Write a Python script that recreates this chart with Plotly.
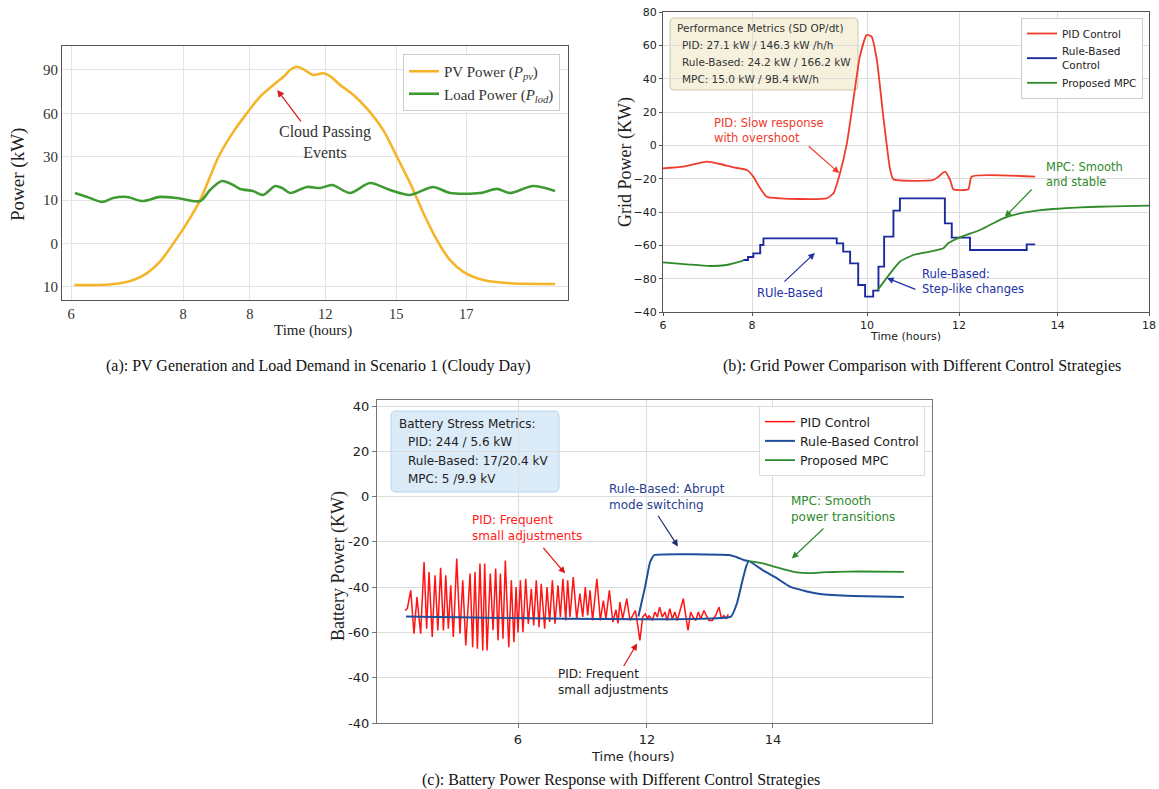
import plotly.graph_objects as go

W, H = 1159, 789
SANS = "DejaVu Sans"
SERIF = "Liberation Serif"

# ---------------- (a) PV generation / load ----------------
a_xtick_pos = [6, 9.2, 11.11, 13.26, 15.29, 17.29]
a_xtick_txt = ["6", "8", "8", "12", "15", "17"]
a_ytick_pos = [-20, 0, 20, 40, 60, 80]
a_ytick_txt = ["10", "0", "10", "30", "60", "90"]

a_pv_t = [6.09, 6.83, 7.40, 7.78, 8.16, 8.54, 8.92, 9.31, 9.69, 9.97, 10.21, 10.64, 11.02, 11.40,
          11.78, 12.07, 12.26, 12.45, 12.64, 12.92, 13.21, 13.40, 13.69, 14.07, 14.45, 14.92,
          15.31, 15.69, 16.07, 16.45, 16.83, 17.21, 17.78, 18.54, 19.83]
a_pv = [-19.1, -19.1, -18.3, -16.8, -13.7, -8.3, 0.0, 9.4, 20.0, 30.8, 39.9, 51.6, 60.0, 67.7,
        73.1, 76.9, 80.0, 81.5, 80.3, 77.7, 78.5, 77.2, 73.1, 68.5, 62.3, 52.3,
        40.0, 27.8, 14.0, 1.7, -7.6, -13.0, -16.8, -18.3, -18.6]

a_load_t = [6.11, 6.46, 6.89, 7.20, 7.60, 8.03, 8.54, 9.03, 9.69, 9.97, 10.31, 10.63, 10.83, 11.20,
            11.49, 11.83, 12.03, 12.26, 12.74, 13.11, 13.46, 13.97, 14.54, 15.11, 15.69, 16.34,
            16.83, 17.69, 18.17, 18.54, 19.20, 19.83]
a_load = [23.3, 21.5, 19.2, 21.0, 21.5, 19.6, 21.5, 21.0, 19.6, 24.7, 28.8, 27.0, 25.2, 24.2,
          22.4, 26.5, 25.6, 23.3, 26.1, 25.6, 27.0, 23.3, 27.9, 24.7, 22.4, 26.1,
          23.3, 23.3, 25.2, 23.3, 26.5, 24.2]

# ---------------- (b) grid power ----------------
b_xtick_pos = [6, 8.2, 11.04, 13.31, 15.75, 18]
b_xtick_txt = ["6", "8", "10", "12", "14", "18"]
b_ytick_pos = [-100, -80, -60, -40, -20, 0, 20, 40, 60, 80]
b_ytick_txt = ["\u221240", "\u221280", "\u221260", "\u221240", "\u221220", "0", "20", "40", "60", "80"]

b_pid_t = [6.0, 6.50, 7.08, 7.41, 7.74, 8.07, 8.23, 8.40, 8.56, 8.89, 9.38, 10.04, 10.21, 10.37,
           10.54, 10.70, 10.86, 11.03, 11.15, 11.28, 11.44, 11.61, 11.69, 12.67, 12.80, 12.96,
           13.09, 13.17, 13.54, 13.62, 15.19]
b_pid = [-13.8, -12.8, -9.8, -11.2, -13.2, -14.8, -18.8, -25.8, -30.8, -31.8, -32.2, -31.8, -28.8, -16.8,
         1.2, 27.2, 53.2, 66.2, 65.2, 51.2, 17.2, -14.8, -20.4, -20.8, -18.8, -15.8,
         -20.8, -26.4, -26.4, -18.8, -18.8]

b_rb_t = [7.98, 8.10, 8.23, 8.40, 8.48, 10.29, 10.45, 10.62, 10.82, 10.99, 11.19, 11.32, 11.46,
          11.69, 11.85, 12.96, 13.13, 13.58, 14.98, 15.19]
b_rb = [-68.8, -67.0, -64.8, -59.8, -55.8, -58.8, -63.8, -70.8, -83.8, -90.8, -87.2, -72.8, -54.8,
        -39.2, -31.8, -46.8, -55.4, -62.8, -59.4, -59.4]

b_mpc_t = [6.0, 6.59, 7.16, 7.57, 7.98, None, 11.30, 11.61, 11.85, 12.18, 12.59, 12.92, 13.04,
           13.33, 13.83, 14.40, 14.82, 15.23, 15.64, 16.30, 17.12, 18.0]
b_mpc = [-70.2, -71.4, -72.4, -71.8, -69.2, None, -86.8, -76.8, -69.8, -65.8, -63.8, -61.8, -58.8,
         -55.2, -50.8, -43.8, -40.8, -39.2, -38.2, -37.2, -36.6, -36.2]

# ---------------- (c) battery power ----------------
c_xtick_pos = [6, 12, 17.86]
c_xtick_txt = ["6", "12", "14"]
c_ytick_pos = [40, 20, 0, -20, -40, -60, -80, -100]
c_ytick_txt = ["40", "20", "0", "-20", "-40", "-60", "-40", "-40"]

c_pid_t = [0.74, 0.85, 1.01, 1.16, 1.30, 1.47, 1.63, 1.75, 1.86, 2.01, 2.14, 2.27, 2.40, 2.53,
           2.64, 2.76, 2.87, 2.99, 3.15, 3.30, 3.43, 3.57, 3.77, 3.89, 4.00, 4.11, 4.23, 4.36,
           4.45, 4.56, 4.71, 4.84, 4.96, 5.07, 5.18, 5.30, 5.41, 5.57, 5.69, 5.81, 5.91, 6.00,
           6.11, 6.23, 6.36, 6.48, 6.62, 6.73, 6.85, 6.98, 7.08, 7.24, 7.35, 7.47, 7.60, 7.72,
           7.86, 7.97, 8.09, 8.22,
           8.31, 8.42, 8.57, 8.73, 8.88, 9.01, 9.13, 9.24, 9.35, 9.47, 9.67, 9.83, 9.97, 10.09,
           10.25, 10.41, 10.56, 10.65, 10.74, 10.87, 11.06, 11.21, 11.34, 11.46, 11.57, 11.67,
           11.80, 11.92, 12.03,
           12.09, 12.25, 12.37, 12.48, 12.59, 12.71, 12.84, 12.94, 13.06, 13.18, 13.30, 13.41,
           13.57, 13.69, 13.80, 13.91, 14.03, 14.14, 14.27, 14.39, 14.50, 14.65, 14.76, 14.88,
           15.04, 15.20, 15.35, 15.47, 15.58, 15.69, 15.78]
c_pid = [-50.3, -49.5, -41.4, -60.6, -44.4, -60.6, -28.9, -58.4, -33.3, -62.0, -34.8, -59.1, -31.4, -59.1,
         -34.8, -58.4, -39.2, -62.0, -27.4, -60.6, -37.0, -65.8, -34.0, -66.5, -33.3, -67.2, -29.6, -68.0,
         -29.6, -68.0, -34.0, -59.0, -31.8, -63.5, -34.0, -62.8, -28.2, -66.5, -37.0, -64.3, -40.0, -60.0,
         -37.0, -59.9, -36.3, -56.2, -40.7, -56.9, -37.0, -57.7, -38.5, -58.4, -40.0, -55.4, -37.0, -56.2,
         -39.2, -53.2, -36.3, -54.7,
         -37.0, -53.2, -35.5, -54.0, -42.9, -53.2, -40.0, -52.5, -41.4, -54.7, -36.3, -54.7, -45.9, -54.0,
         -41.4, -55.4, -50.0, -56.0, -46.6, -54.0, -45.1, -54.7, -52.5, -50.3, -56.9, -63.5,
         -53.2, -51.8, -54.0,
         -52.5, -54.7, -51.0, -53.2, -48.8, -53.2, -51.0, -54.7, -49.5, -54.0, -51.0, -54.7,
         -48.8, -45.1, -52.5, -59.1, -51.0, -53.2, -54.7, -51.0, -54.0, -50.3, -52.5, -54.7,
         -54.7, -52.5, -48.8, -54.0, -52.5, -54.0, -52.0]

c_rb_t = [0.79, 15.91, 16.19, 16.42, 16.61, 16.74, 17.40, 18.05, 18.65, 19.44, 20.05, 21.58, 23.95,
          None, 11.60, 11.91, 12.14, 12.33, 15.81, 16.19, 16.51, 16.74]
c_rb = [-53.0, -53.0, -47.0, -38.0, -31.0, -28.5, -32.6, -36.1, -39.8, -41.9, -43.0, -43.9, -44.4,
        None, -53.0, -40.0, -29.0, -25.8, -25.8, -26.8, -28.0, -28.5]

c_mpc_t = [16.74, 17.40, 17.86, 18.33, 18.98, 19.58, 20.30, 20.84, 21.90, 23.95]
c_mpc = [-28.5, -29.5, -30.8, -32.0, -33.5, -33.8, -33.4, -33.3, -33.1, -33.3]


def X(px):
    return px / W


def Y(py):
    return 1 - py / H


def rounded_box(x0, y0, x1, y1, r):
    """Rounded rectangle path in paper coordinates from pixel corners."""
    pts = [
        f"M {X(x0 + r)},{Y(y0)}", f"L {X(x1 - r)},{Y(y0)}", f"Q {X(x1)},{Y(y0)} {X(x1)},{Y(y0 + r)}",
        f"L {X(x1)},{Y(y1 - r)}", f"Q {X(x1)},{Y(y1)} {X(x1 - r)},{Y(y1)}",
        f"L {X(x0 + r)},{Y(y1)}", f"Q {X(x0)},{Y(y1)} {X(x0)},{Y(y1 - r)}",
        f"L {X(x0)},{Y(y0 + r)}", f"Q {X(x0)},{Y(y0)} {X(x0 + r)},{Y(y0)}", "Z",
    ]
    return " ".join(pts)


fig = go.Figure()

# (a)
fig.add_trace(go.Scatter(x=a_pv_t, y=a_pv, mode="lines", name="PV Power (<i>P<sub>pv</sub></i>)",
                         line=dict(color="#f5b52a", width=2.6, shape="spline", smoothing=0.8),
                         xaxis="x", yaxis="y", legend="legend"))
fig.add_trace(go.Scatter(x=a_load_t, y=a_load, mode="lines", name="Load Power (<i>P<sub>lod</sub></i>)",
                         line=dict(color="#3f9a33", width=2.6, shape="spline", smoothing=0.8),
                         xaxis="x", yaxis="y", legend="legend"))
# (b)
fig.add_trace(go.Scatter(x=b_pid_t, y=b_pid, mode="lines", name="PID Control",
                         line=dict(color="#f03c2c", width=1.8, shape="spline", smoothing=0.5),
                         xaxis="x2", yaxis="y2", legend="legend2"))
fig.add_trace(go.Scatter(x=b_rb_t, y=b_rb, mode="lines", name="Rule-Based<br>Control",
                         line=dict(color="#1c2a9e", width=1.9, shape="hv"),
                         xaxis="x2", yaxis="y2", legend="legend2"))
fig.add_trace(go.Scatter(x=b_mpc_t, y=b_mpc, mode="lines", name="Proposed MPC",
                         line=dict(color="#2f8a2a", width=1.8, shape="spline", smoothing=0.6),
                         xaxis="x2", yaxis="y2", legend="legend2"))
# (c)
fig.add_trace(go.Scatter(x=c_pid_t, y=c_pid, mode="lines", name="PID Control",
                         line=dict(color="#ff1414", width=1.5),
                         xaxis="x3", yaxis="y3", legend="legend3"))
fig.add_trace(go.Scatter(x=c_rb_t, y=c_rb, mode="lines", name="Rule-Based Control",
                         line=dict(color="#1f4e9b", width=2.0, shape="spline", smoothing=0.3),
                         xaxis="x3", yaxis="y3", legend="legend3"))
fig.add_trace(go.Scatter(x=c_mpc_t, y=c_mpc, mode="lines", name="Proposed MPC",
                         line=dict(color="#2d8a2d", width=1.8, shape="spline", smoothing=0.5),
                         xaxis="x3", yaxis="y3", legend="legend3"))

grid = "#e4e4e4"
fig.update_layout(
    template="none",
    width=W, height=H, margin=dict(l=0, r=0, t=0, b=0, pad=0), autosize=False,
    paper_bgcolor="white", plot_bgcolor="white",
    xaxis=dict(domain=[X(62), X(568)], anchor="y", range=[5.74, 20.2], automargin=False,
               tickvals=a_xtick_pos, ticktext=a_xtick_txt, showgrid=True, gridcolor=grid,
               showline=True, mirror=True, linecolor="#555", linewidth=1.2, zeroline=False,
               ticks="", tickfont=dict(family=SERIF, size=14.5, color="#333")),
    yaxis=dict(domain=[Y(300), Y(46)], anchor="x", range=[-26, 91.05], automargin=False,
               tickvals=a_ytick_pos, ticktext=a_ytick_txt, showgrid=True, gridcolor=grid,
               showline=True, mirror=True, linecolor="#555", linewidth=1.2, zeroline=False,
               ticks="", tickfont=dict(family=SERIF, size=15, color="#333")),
    xaxis2=dict(domain=[X(663), X(1149)], anchor="y2", range=[6, 18], automargin=False,
                tickvals=b_xtick_pos, ticktext=b_xtick_txt, showgrid=True, gridcolor="#dddddd",
                showline=True, mirror=True, linecolor="#555", linewidth=1, zeroline=False,
                ticks="outside", ticklen=3, tickcolor="#555",
                tickfont=dict(family=SANS, size=11, color="#222")),
    yaxis2=dict(domain=[Y(312), Y(12)], anchor="x2", range=[-100, 80], automargin=False,
                tickvals=b_ytick_pos, ticktext=b_ytick_txt, showgrid=True, gridcolor="#dddddd",
                showline=True, mirror=True, linecolor="#555", linewidth=1, zeroline=False,
                ticks="outside", ticklen=3, tickcolor="#555",
                tickfont=dict(family=SANS, size=11, color="#222")),
    xaxis3=dict(domain=[X(377), X(932)], anchor="y3", range=[-0.56, 25.26], automargin=False,
                tickvals=c_xtick_pos, ticktext=c_xtick_txt, showgrid=True, gridcolor="#dddddd",
                showline=True, mirror=True, linecolor="#777", linewidth=1.2, zeroline=False,
                ticks="outside", ticklen=4, tickcolor="#777",
                tickfont=dict(family=SANS, size=13, color="#222")),
    yaxis3=dict(domain=[Y(723), Y(400)], anchor="x3", range=[-100, 42.65], automargin=False,
                tickvals=c_ytick_pos, ticktext=c_ytick_txt, showgrid=True, gridcolor="#dddddd",
                showline=True, mirror=True, linecolor="#777", linewidth=1.2, zeroline=False,
                ticks="outside", ticklen=4, tickcolor="#777",
                tickfont=dict(family=SANS, size=13, color="#222")),
    legend=dict(x=X(560), xanchor="right", y=Y(54), yanchor="top", bgcolor="white",
                bordercolor="#cccccc", borderwidth=1, font=dict(family=SERIF, size=15, color="#333"),
                itemwidth=30),
    legend2=dict(x=X(1143), xanchor="right", y=Y(18), yanchor="top", bgcolor="white",
                 bordercolor="#cccccc", borderwidth=1, font=dict(family=SANS, size=10.5, color="#222"),
                 itemwidth=30),
    legend3=dict(x=X(925), xanchor="right", y=Y(406), yanchor="top", bgcolor="white",
                 bordercolor="#dddddd", borderwidth=1, font=dict(family=SANS, size=12.5, color="#222"),
                 itemwidth=30),
)

ann = []


def text(px, py, s, size, color, family=SANS, xanchor="left", yanchor="middle", angle=0):
    ann.append(dict(x=X(px), y=Y(py), xref="paper", yref="paper", text=s, showarrow=False,
                    xanchor=xanchor, yanchor=yanchor, align="left" if xanchor == "left" else "center",
                    font=dict(family=family, size=size, color=color), textangle=angle))


def arrow(ax, hx, hy, tx, ty, color, width=1.2):
    ann.append(dict(x=hx, y=hy, ax=tx, ay=ty, xref=ax[0], yref=ax[1], axref=ax[0], ayref=ax[1],
                    text="", showarrow=True, arrowhead=2, arrowsize=1.1, arrowwidth=width,
                    arrowcolor=color))


# axis titles and captions
text(18, 175, "Power (kW)", 19, "#222", SERIF, "center", "middle", -90)
text(313, 330, "Time (hours)", 15, "#222", SERIF, "center", "middle")
text(318, 366, "(a): PV Generation and Load Demand in Scenario 1 (Cloudy Day)", 16, "#111", SERIF, "center")
text(626, 162, "Grid Power (KW)", 18, "#222", SERIF, "center", "middle", -90)
text(905, 336, "Time (hours)", 11, "#222", SANS, "center", "middle")
text(922, 366, "(b): Grid Power Comparison with Different Control Strategies", 16, "#111", SERIF, "center")
text(338, 566, "Battery Power (KW)", 18, "#222", SERIF, "center", "middle", -90)
text(633, 756, "Time (hours)", 13, "#222", SANS, "center", "middle")
text(621, 780, "(c): Battery Power Response with Different Control Strategies", 16, "#111", SERIF, "center")

# (a) annotation
text(325, 142, "Cloud Passing<br>Events", 16, "#333", SERIF, "center", "middle")
arrow(("x", "y"), 11.89, 70.8, 12.60, 55.6, "#d62020", 1.3)

# (b) annotations
text(712, 130, "PID: Slow response<br>with overshoot", 11.5, "#f03c2c")
arrow(("x2", "y2"), 10.35, -16.6, 9.56, 0.2, "#f03c2c")
text(755, 293, "RUle-Based", 11.5, "#2030a8")
arrow(("x2", "y2"), 9.75, -64.6, 8.96, -82.6, "#2030a8")
text(920, 282, "Rule-Based:<br>Step-like changes", 11.5, "#2030a8")
arrow(("x2", "y2"), 11.53, -79.6, 12.27, -86.8, "#2030a8")
text(1044, 175, "MPC: Smooth<br>and stable", 11.5, "#2f8a2a")
arrow(("x2", "y2"), 14.44, -43.0, 15.14, -25.6, "#2f8a2a")

# (b) metrics box
text(675, 28, "Performance Metrics (SD OP/dt)", 10.5, "#333")
text(680, 45, "PID: 27.1 kW / 146.3 kW /h/h", 10.5, "#333")
text(680, 62, "Rule-Based: 24.2 kW / 166.2 kW", 10.5, "#333")
text(680, 79, "MPC: 15.0 kW / 9B.4 kW/h", 10.5, "#333")

# (c) annotations
text(607, 497, "Rule-Based: Abrupt<br>mode switching", 12, "#27408f")
arrow(("x3", "y3"), 13.44, -22.0, 12.47, -7.8, "#1c2f6e")
text(470, 528, "PID: Frequent<br>small adjustments", 12, "#ff2020")
arrow(("x3", "y3"), 8.19, -33.9, 7.12, -22.0, "#e01010")
text(556, 682, "PID: Frequent<br>small adjustments", 12, "#222")
arrow(("x3", "y3"), 11.54, -64.9, 10.88, -75.5, "#e01010")
text(789, 509, "MPC: Smooth<br>power transitions", 12, "#2d8a2d")
arrow(("x3", "y3"), 18.74, -27.3, 20.28, -13.5, "#2d8a2d")

# (c) metrics box
text(397, 424, "Battery Stress Metrics:", 12, "#222")
text(406, 442, "PID: 244 / 5.6 kW", 12, "#222")
text(406, 461, "Rule-Based: 17/20.4 kV", 12, "#222")
text(406, 479, "MPC: 5 /9.9 kV", 12, "#222")

fig.update_layout(annotations=ann)

fig.update_layout(shapes=[
    dict(type="path", xref="paper", yref="paper", path=rounded_box(670, 18, 858, 90, 4),
         fillcolor="#f6f1dc", line=dict(color="#cfc8ad", width=1), layer="below"),
    dict(type="path", xref="paper", yref="paper", path=rounded_box(391, 411, 559, 492, 5),
         fillcolor="#dcebf8", line=dict(color="#b8d3ee", width=1), layer="below"),
])

fig.write_html("out.html")
